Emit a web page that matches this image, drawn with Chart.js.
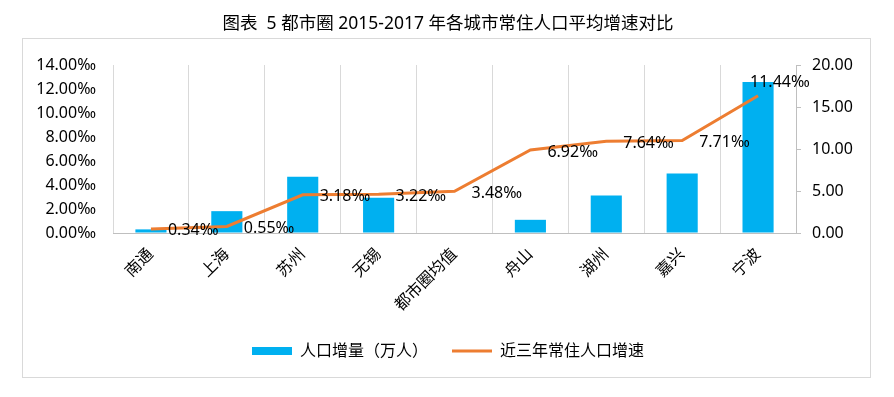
<!DOCTYPE html>
<html lang="zh">
<head>
<meta charset="UTF-8">
<title>都市圈常住人口平均增速对比</title>
<script src="https://cdn.jsdelivr.net/npm/chart.js"></script>
<style>
  html, body {
    margin: 0;
    padding: 0;
    background: #fff;
  }
  #wrap {
    width: 894px;
    height: 397px;
  }
</style>
</head>
<body>
<div id="wrap"><canvas id="chart" width="894" height="397"></canvas></div>
<script>
// data
const cities = ['南通', '上海', '苏州', '无锡', '都市圈均值', '舟山', '湖州', '嘉兴', '宁波'];
const popIncrease = [0.43, 2.6, 6.7, 4.2, null, 1.57, 4.47, 7.08, 17.97];   // 万人, right axis
const growthRate = [0.34, 0.55, 3.18, 3.22, 3.48, 6.92, 7.64, 7.71, 11.44]; // ‰, left axis
const rateTicks = [0, 2, 4, 6, 8, 10, 12, 14];
const popTicks = [0, 5, 10, 15, 20];

const FONT = '"Noto Sans", "Noto Sans CJK SC", sans-serif';

// frame around the plot (title sits above it)
const framePlugin = {
  id: 'frame',
  beforeDraw(chart) {
    const ctx = chart.ctx;
    ctx.save();
    ctx.fillStyle = '#fff';
    ctx.fillRect(0, 0, chart.width, chart.height);
    ctx.strokeStyle = '#d9d9d9';
    ctx.lineWidth = 1;
    ctx.strokeRect(22.5, 38.5, 848, 339);
    ctx.restore();
  }
};

// value labels next to the line points
const labelPlugin = {
  id: 'rateLabels',
  afterDatasetsDraw(chart) {
    const meta = chart.getDatasetMeta(1);
    const ctx = chart.ctx;
    ctx.save();
    ctx.font = '16px ' + FONT;
    ctx.fillStyle = '#000';
    ctx.textAlign = 'left';
    ctx.textBaseline = 'middle';
    meta.data.forEach((pt, i) => {
      let dx = 17, dy = 2;
      if (i === meta.data.length - 1) { dx = -8; dy = -13; }
      ctx.fillText(growthRate[i].toFixed(2) + '‰', pt.x + dx, pt.y + dy);
    });
    ctx.restore();
  }
};

new Chart(document.getElementById('chart'), {
  data: {
    labels: cities,
    datasets: [
      {
        type: 'bar',
        label: '人口增量（万人）',
        data: popIncrease,
        yAxisID: 'y1',
        backgroundColor: '#00b0f0',
        borderWidth: 0,
        barPercentage: 0.41,
        categoryPercentage: 1,
        pointStyle: 'rect',
        order: 2
      },
      {
        type: 'line',
        label: '近三年常住人口增速',
        data: growthRate,
        yAxisID: 'y',
        borderColor: '#ed7d31',
        backgroundColor: '#ed7d31',
        borderWidth: 3,
        pointRadius: 0,
        pointStyle: 'line',
        tension: 0,
        order: 1
      }
    ]
  },
  options: {
    responsive: false,
    animation: false,
    layout: { padding: { left: 30, right: 28, top: 0, bottom: 28 } },
    plugins: {
      title: {
        display: true,
        text: '图表  5 都市圈 2015-2017 年各城市常住人口平均增速对比',
        color: '#000',
        font: { family: FONT, size: 17.5, weight: 'normal' },
        padding: { top: 14, bottom: 30 }
      },
      legend: {
        position: 'bottom',
        labels: {
          color: '#000',
          font: { family: FONT, size: 16 },
          usePointStyle: true,
          pointStyleWidth: 40,
          boxHeight: 8,
          padding: 24,
          sort: (a, b) => a.datasetIndex - b.datasetIndex
        }
      },
      tooltip: { enabled: false }
    },
    scales: {
      x: {
        grid: { color: '#d9d9d9', tickLength: 0, offset: true },
        border: { color: '#bfbfbf' },
        ticks: {
          color: '#000',
          font: { family: FONT, size: 16 },
          minRotation: 45,
          maxRotation: 45,
          padding: 12
        },
        afterFit(scale) { scale.height = 86; }
      },
      y: {
        position: 'left',
        min: 0,
        max: 14,
        grid: { display: false },
        border: { display: false },
        afterBuildTicks(scale) { scale.ticks = rateTicks.map(v => ({ value: v })); },
        ticks: {
          color: '#000',
          font: { family: FONT, size: 16 },
          padding: 9,
          callback: v => Number(v).toFixed(2) + '‰'
        },
        afterFit(scale) { scale.width = 83; }
      },
      y1: {
        position: 'right',
        min: 0,
        max: 20,
        grid: { drawOnChartArea: false, color: '#bfbfbf', tickLength: 5 },
        border: { color: '#bfbfbf' },
        afterBuildTicks(scale) { scale.ticks = popTicks.map(v => ({ value: v })); },
        ticks: {
          color: '#000',
          font: { family: FONT, size: 16 },
          padding: 11,
          callback: v => Number(v).toFixed(2)
        },
        afterFit(scale) { scale.width = 70; }
      }
    }
  },
  plugins: [framePlugin, labelPlugin]
});
</script>
</body>
</html>
